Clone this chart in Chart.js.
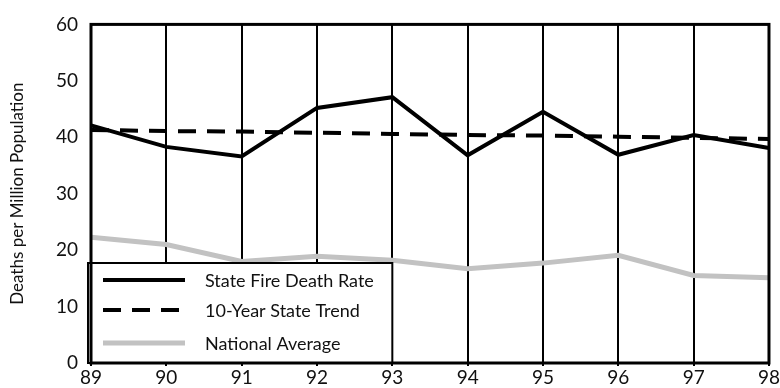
<!DOCTYPE html>
<html>
<head>
<meta charset="utf-8">
<script src="https://cdn.jsdelivr.net/npm/chart.js@4"></script>
<style>
  html, body { margin: 0; padding: 0; background: #fff; }
  #wrap { width: 780px; height: 388px; }
</style>
</head>
<body>
<div id="wrap"><canvas id="fireChart"></canvas></div>
<script>
const years = ["89", "90", "91", "92", "93", "94", "95", "96", "97", "98"];
const stateRate = [42.1, 38.3, 36.6, 45.2, 47.1, 36.8, 44.5, 36.9, 40.4, 38.1];
const stateTrend = [41.3, 41.1, 41.0, 40.8, 40.6, 40.4, 40.3, 40.1, 39.9, 39.7];
const nationalAvg = [22.3, 21.0, 18.0, 18.9, 18.2, 16.7, 17.7, 19.1, 15.5, 15.1];

const FONT = "Lato, 'DejaVu Sans', sans-serif";

// frame + boxed legend sitting in the lower-left corner of the plot
const framePlugin = {
  id: "frame",
  afterDatasetsDraw(chart) {
    const { ctx, chartArea: a } = chart;
    ctx.save();

    // legend box
    const bx = a.left - 3, by = a.bottom - 100, bw = chart.scales.x.getPixelForValue(4) - bx, bh = 100;
    ctx.fillStyle = "#fff";
    ctx.fillRect(bx, by, bw, bh);
    ctx.lineWidth = 2;
    ctx.strokeStyle = "#000";
    ctx.strokeRect(bx, by, bw, bh);

    ctx.font = "18px " + FONT;
    ctx.textBaseline = "middle";
    const rows = [by + 17, by + 47, by + 80];
    chart.data.datasets.forEach((ds, i) => {
      const y = rows[i];
      ctx.beginPath();
      ctx.setLineDash(ds.borderDash || []);
      ctx.lineWidth = ds.borderWidth;
      ctx.strokeStyle = ds.borderColor;
      ctx.moveTo(bx + 15, y);
      ctx.lineTo(bx + 97, y);
      ctx.stroke();
      ctx.setLineDash([]);
      ctx.fillStyle = "#111";
      ctx.fillText(ds.label, bx + 117, y + 1);
    });

    // outer frame
    ctx.lineWidth = 3;
    ctx.strokeStyle = "#000";
    ctx.strokeRect(a.left, a.top, a.right - a.left, a.bottom - a.top);
    ctx.restore();
  }
};

new Chart(document.getElementById("fireChart"), {
  type: "line",
  data: {
    labels: years,
    datasets: [
      {
        label: "State Fire Death Rate",
        data: stateRate,
        borderColor: "#000",
        borderWidth: 4,
        pointRadius: 0,
        tension: 0,
      },
      {
        label: "10-Year State Trend",
        data: stateTrend,
        borderColor: "#000",
        borderWidth: 4,
        borderDash: [18, 11],
        pointRadius: 0,
        tension: 0,
      },
      {
        label: "National Average",
        data: nationalAvg,
        borderColor: "#c2c2c2",
        borderWidth: 5,
        pointRadius: 0,
        tension: 0,
      },
    ],
  },
  options: {
    responsive: true,
    maintainAspectRatio: false,
    animation: false,
    layout: { padding: { top: 14, right: 9, left: 0, bottom: 0 } },
    plugins: {
      legend: { display: false },
      tooltip: { enabled: false },
    },
    scales: {
      x: {
        offset: false,
        afterFit: (s) => { s.height = 25; },
        grid: { color: "#000", lineWidth: 2, tickLength: 3, drawOnChartArea: true },
        border: { display: false },
        ticks: { color: "#111", padding: 0, maxRotation: 0, font: { family: FONT, size: 19 } },
      },
      y: {
        min: 0,
        max: 60,
        afterFit: (s) => { s.width = 91; },
        grid: { display: false, drawTicks: false },
        border: { display: false },
        ticks: { stepSize: 10, color: "#111", padding: 13, font: { family: FONT, size: 19 } },
        title: {
          display: true,
          text: "Deaths per Million Population",
          color: "#111",
          padding: { top: 7, bottom: 0 },
          font: { family: FONT, size: 17 },
        },
      },
    },
  },
  plugins: [framePlugin],
});
</script>
</body>
</html>
